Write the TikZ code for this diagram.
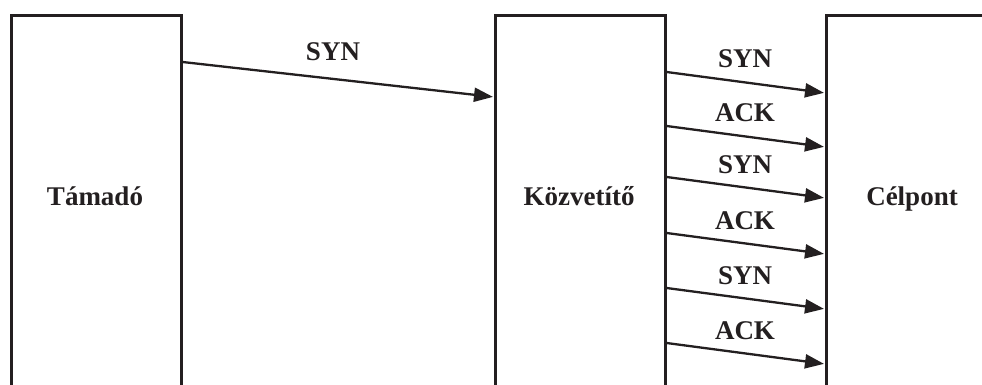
\documentclass[tikz,border=0pt]{standalone}
\usepackage{fontspec}
\setmainfont{Liberation Serif}
\usetikzlibrary{arrows.meta}
\definecolor{ink}{HTML}{231F20}
\tikzset{
  box/.style={draw=ink, line width=2.6pt, minimum width=170pt, minimum height=420pt, inner sep=0pt, anchor=north west},
  lbl/.style={text=ink, font=\fontsize{27}{29}\selectfont\bfseries, anchor=base, inner sep=0pt},
  msg/.style={draw=ink, line width=2.3pt, -{Triangle[length=19pt,width=14pt]}, shorten >=1pt}
}
\begin{document}
\begin{tikzpicture}[x=1pt,y=-1pt]
\useasboundingbox (0,0) rectangle (982,385);
\clip (0,0) rectangle (982,385);
\fill[white] (0,0) rectangle (982,385);
\node[box] (A) at (10,14.5) {};
\node[box] (B) at (494,14.5) {};
\node[box] (C) at (825,14.5) {};
\node[lbl] (ta) at (95,205) {Támadó};
\node[lbl] (ko) at (579,205) {Közvetítő};
\node[lbl] (ce) at (912,205) {Célpont};
% first message
\draw[msg] (A.east |- 0,62) -- (B.west |- 0,97);
\node[lbl] (s0) at (333,61) {SYN};
% right messages
\foreach \i/\y/\t in {1/72/SYN,2/126/ACK,3/177/SYN,4/233/ACK,5/288/SYN,6/343/ACK}{
  \draw[msg] (B.east |- 0,\y) -- (C.west |- 0,\y+21);
  \node[lbl] (m\i) at (745,\y-4) {\t};
}
\end{tikzpicture}
\end{document}
